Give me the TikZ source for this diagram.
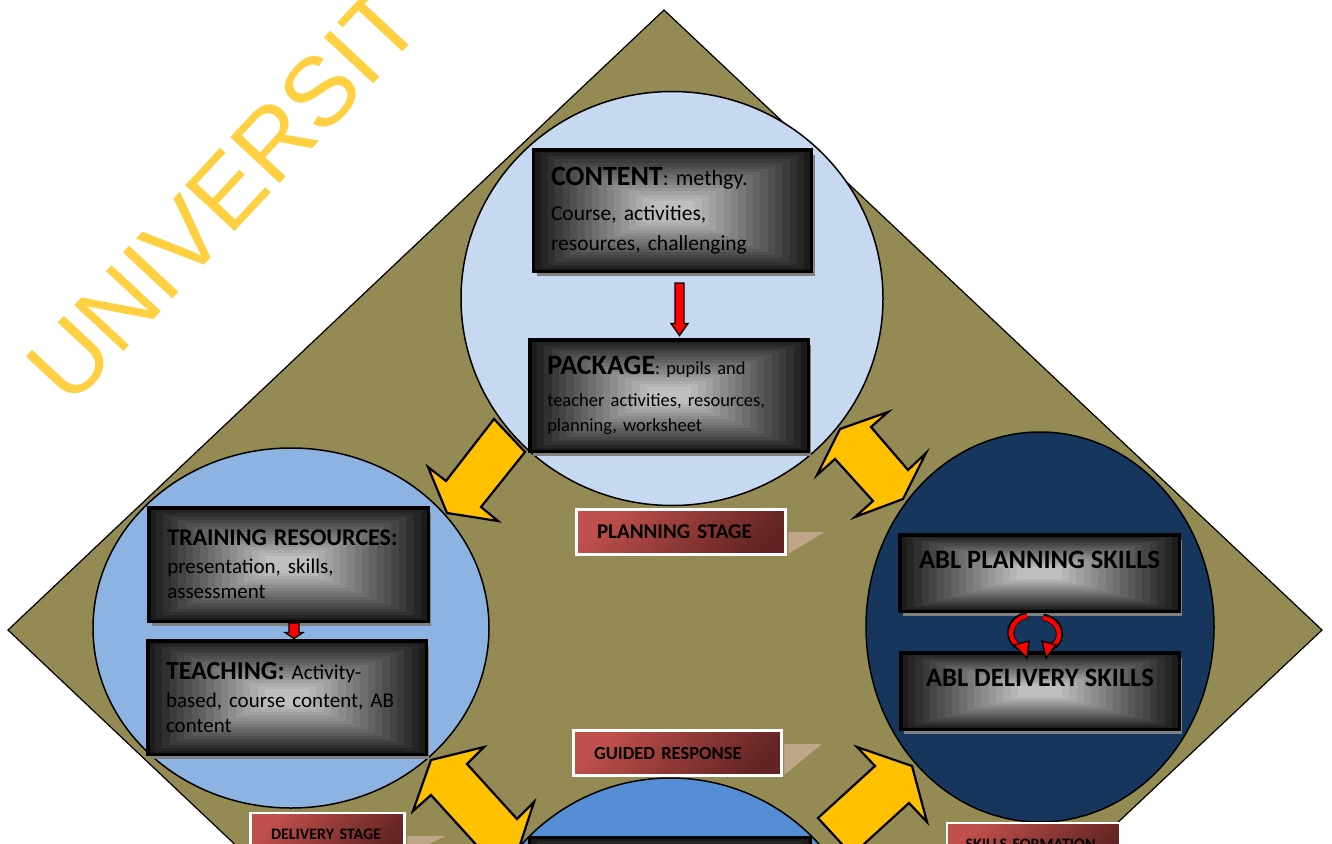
\documentclass[tikz,border=0pt]{standalone}
\usepackage{fontspec}
\setmainfont{Carlito}
\newfontfamily\wmfont{Liberation Sans}
\usetikzlibrary{calc,shadows,shapes.geometric}
\definecolor{dolive}{HTML}{948A54}
\definecolor{ctop}{HTML}{C6D9F1}
\definecolor{cleft}{HTML}{8DB3E2}
\definecolor{cright}{HTML}{17365D}
\definecolor{cbottom}{HTML}{558ED5}
\definecolor{arrowY}{HTML}{FFC000}
\definecolor{labA}{HTML}{C0504D}
\definecolor{labB}{HTML}{632523}
\definecolor{tanshadow}{RGB}{192,166,137}
\definecolor{wmyellow}{HTML}{FFD042}
\newcommand\mydownarrow[5]{%
  \draw[rblock] let \p1=(#1), \p2=(#2) in
   (\x1-#3pt,\y1) -- (\x1+#3pt,\y1) -- (\x1+#3pt,\y2+#5pt) -- (\x1+#4pt,\y2+#5pt)
   -- (\x1,\y2) -- (\x1-#4pt,\y2+#5pt) -- (\x1-#3pt,\y2+#5pt) -- cycle;}
\begin{document}
\begin{tikzpicture}[x=1pt,y=-1pt,
  gbox/.style={draw=black, line width=3.5,
    drop shadow={shadow xshift=3pt, shadow yshift=-5pt, fill=black!50, opacity=1},
    path picture={
      \foreach \k in {0,...,16}{
        \pgfmathsetmacro\shadeval{89-\k*4}
        \fill[black!\shadeval] ($(path picture bounding box.south west)!\k/38!(path picture bounding box.north east)$)
          rectangle ($(path picture bounding box.north east)!\k/38!(path picture bounding box.south west)$);
      }}},
  lab/.style={draw=white, line width=2.5, top color=labA, bottom color=labB, shading angle=45,
    inner xsep=20.5, inner ysep=0, align=left, text=black},
  yarrow/.style={fill=arrowY, draw=black, line width=2.2, line join=miter},
  rblock/.style={fill=red, draw=black, line width=1.3, line join=miter},
  circ/.style={ellipse, draw=black, line width=1.5, inner sep=0},
  tanshape/.style={fill=tanshadow},
]
\useasboundingbox (0,0) rectangle (1332,843);
\clip (0,0) rectangle (1332,843);
\fill[white] (0,0) rectangle (1332,843);

% diamond
\draw[fill=dolive, draw=black, line width=1.2] (664,10) -- (1322,630) -- (664,1250) -- (8,630) -- cycle;

% circles
\node[circ, fill=ctop, minimum width=422, minimum height=414] (topc) at (672,298.5) {};
\node[circ, fill=cleft, minimum width=396, minimum height=360] (leftc) at (291,628) {};
\node[circ, fill=cright, minimum width=348, minimum height=390] (rightc) at (1040,627) {};
\node[circ, fill=cbottom, minimum width=400, minimum height=400] (botc) at (670.5,978) {};

% boxes
\node[gbox, minimum width=278, minimum height=121.5, text width=243, inner xsep=17.5, align=left,
      font=\fontsize{21.5}{30}\selectfont] (content) at (672.5,210.5)
  {{\fontsize{28}{30}\selectfont\bfseries CONTENT}{\fontsize{22}{30}\selectfont: methgy.}\\[5pt]Course, activities,\\resources, challenging};
\node[gbox, minimum width=278.5, minimum height=111.5, text width=243.5, inner xsep=17.5, align=left,
      font=\fontsize{18.5}{25}\selectfont] (package) at (669,395.5)
  {{\fontsize{28}{25}\selectfont\bfseries PACKAGE}: pupils and\\[7pt]teacher activities, resources,\\planning, worksheet};
\node[gbox, minimum width=279.5, minimum height=113.5, text width=242.5, inner xsep=18.5, align=left,
      font=\fontsize{21}{25}\selectfont] (training) at (288.5,564.5)
  {{\fontsize{24}{25}\selectfont\bfseries TRAINING RESOURCES:}\\[3pt]presentation, skills,\\assessment};
\node[gbox, minimum width=278.5, minimum height=113.5, text width=242, inner xsep=18.25, align=left,
      font=\fontsize{21}{25}\selectfont] (teaching) at (287,697.5)
  {{\fontsize{26}{25}\selectfont\bfseries TEACHING:} Activity-\\[3pt]based, course content, AB\\content};
\node[gbox, minimum width=279.5, minimum height=76.5, text height=19, text depth=29,
      font=\fontsize{26.5}{30}\selectfont\bfseries] (ablp) at (1039.5,573) {ABL PLANNING SKILLS};
\node[gbox, minimum width=278.5, minimum height=76.5, text height=19, text depth=29,
      font=\fontsize{26.5}{30}\selectfont\bfseries] (abld) at (1040,691) {ABL DELIVERY SKILLS};
\node[gbox, minimum width=281, minimum height=115] (bbox) at (670,895) {};

% red arrows
\coordinate (r1s) at ($(content.south)+(7,10)$);
\coordinate (r1e) at ($(package.north)+(10,-2.5)$);
\mydownarrow{r1s}{r1e}{4.5}{8.5}{12}
\coordinate (r2s) at ($(training.south)+(5.5,0)$);
\coordinate (r2e) at ($(teaching.north)+(7,-0.5)$);
\mydownarrow{r2s}{r2e}{5}{9}{6}

% circular arrows between ABL boxes
\draw[black, line width=7] (1027,615) .. controls (1007,620) and (1006,640) .. (1020,647);
\draw[red, line width=4.4] (1027,615.8) .. controls (1007.8,620.6) and (1006.8,640) .. (1019.6,646.4);
\draw[rblock] (1014,645) -- (1029,641) -- (1027,658) -- cycle;
\draw[black, line width=7] (1043,617) .. controls (1063,621) and (1064,641) .. (1051,647);
\draw[red, line width=4.4] (1043,617.8) .. controls (1062.2,621.6) and (1063.2,641) .. (1051.4,646.4);
\draw[rblock] (1042,641) -- (1056,645) -- (1046,658) -- cycle;

% yellow block arrows
\draw[yarrow] (494,419) -- (525,452) -- (481,507) -- (498,521) -- (447,513) -- (428,467) -- (446,481) -- cycle;
\draw[yarrow] (840,429) -- (888,412) -- (871,427) -- (908,470) -- (926,453) -- (903,499)
  -- (855,517) -- (873,501) -- (835,459) -- (817,475) -- cycle;
\draw[yarrow] (431,760) -- (484,747) -- (467,764) -- (517,819) -- (534,802) -- (517,854)
  -- (463,866) -- (481,850) -- (431,795) -- (413,811) -- cycle;
\draw[yarrow] (912,766) -- (927,822) -- (909,803) -- (852,855) -- (818,818) -- (875,766) -- (857,747) -- cycle;

% labels
\node[lab, minimum width=209, minimum height=45, text width=168,
      font=\fontsize{21}{24}\selectfont\bfseries] (plan) at (681,532) {\mbox{PLANNING STAGE}};
\node[lab, minimum width=208, minimum height=45, text width=167,
      font=\fontsize{18.5}{22}\selectfont\bfseries] (guided) at (677.5,753) {\mbox{GUIDED RESPONSE}};
\node[lab, minimum width=154, minimum height=42, text width=113,
      font=\fontsize{16}{19}\selectfont\bfseries] (deliv) at (327.5,834) {\mbox{DELIVERY STAGE}};
\node[lab, minimum width=173, minimum height=42, text width=136, inner xsep=18.5,
      font=\fontsize{16}{19}\selectfont\bfseries] (skills) at (1033.5,844) {\mbox{SKILLS FORMATION}};
\fill[tanshape] ($(plan.east)+(1.5,0)$) -- ($(plan.east)+(38,0)$) -- ($(plan.south east)+(1.5,-2)$) -- cycle;
\fill[tanshape] ($(guided.east)+(1.5,-9)$) -- ($(guided.east)+(39,-9)$) -- ($(guided.south east)+(1.5,-2)$) -- cycle;
\fill[tanshape] ($(deliv.east)+(1.5,2)$) -- ($(deliv.east)+(40,2)$) -- ($(deliv.south east)+(1.5,-2)$) -- cycle;

% watermark
\node[font=\wmfont\fontsize{98}{98}\selectfont, text=wmyellow, rotate=47, anchor=base west, inner sep=0]
  (wm) at (70,409) {UNIVERSIT};
\end{tikzpicture}
\end{document}
